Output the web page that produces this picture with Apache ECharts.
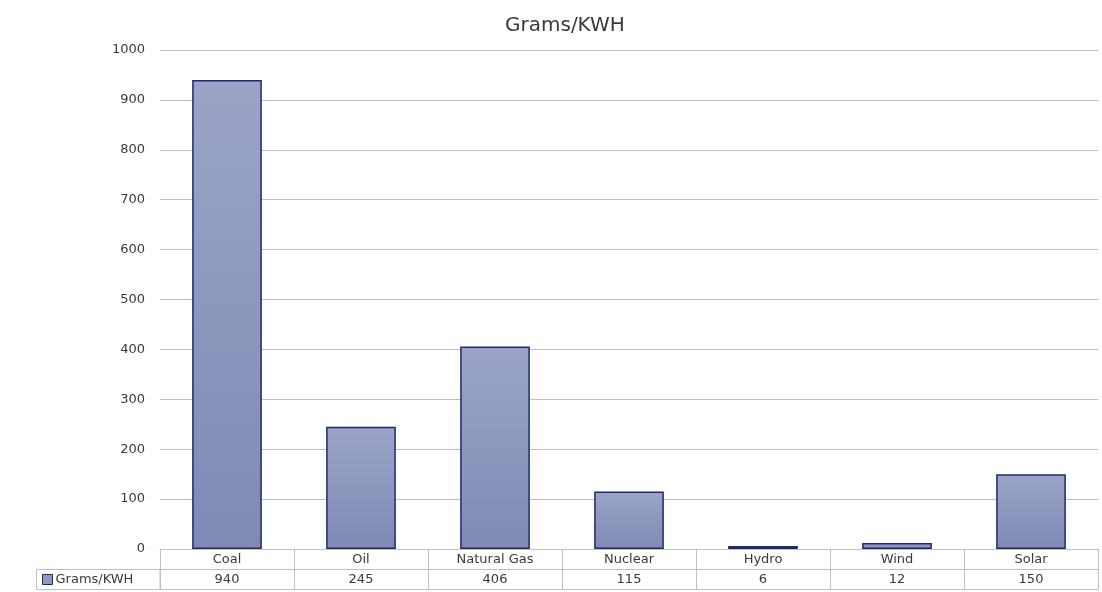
<!DOCTYPE html>
<html>
<head>
<meta charset="utf-8">
<script src="https://cdn.jsdelivr.net/npm/echarts@6/dist/echarts.min.js"></script>
<style>html,body{margin:0;padding:0;background:#fff}#c{width:1102px;height:592px}</style>
</head>
<body>
<div id="c"></div>
<script>
const titleText = 'Grams/KWH';
const seriesName = 'Grams/KWH';
const categories = ['Coal', 'Oil', 'Natural Gas', 'Nuclear', 'Hydro', 'Wind', 'Solar'];
const values = [940, 245, 406, 115, 6, 12, 150];
const yTicks = [0, 100, 200, 300, 400, 500, 600, 700, 800, 900, 1000];

const FONT = 'DejaVu Sans';
const TXT = '#3a3a3a';
const LINE = '#bfbfbf';
const barFill = new echarts.graphic.LinearGradient(0, 0, 0, 1, [
  {offset: 0, color: '#9ba4c7'},
  {offset: 1, color: '#7f8ab5'}
]);

const chart = echarts.init(document.getElementById('c'), null, {renderer: 'canvas'});
chart.setOption({
  animation: false,
  backgroundColor: '#ffffff',
  title: {
    text: titleText, left: 500, top: 11,
    textStyle: {fontFamily: FONT, fontSize: 20, fontWeight: 'normal', color: TXT}
  },
  legend: {
    data: [seriesName], left: 42, top: 573, icon: 'rect', itemWidth: 10, itemHeight: 10, itemGap: 5,
    itemStyle: {color: '#8f99c0', borderColor: '#1f2a6e', borderWidth: 1},
    textStyle: {fontFamily: FONT, fontSize: 13, color: TXT, padding: [0, 0, 0, -2]},
    padding: 0
  },
  graphic: [{
    type: 'rect',
    shape: {x: 36.5, y: 569.5, width: 123.5, height: 20},
    style: {fill: 'none', stroke: LINE, lineWidth: 1}
  }],
  grid: {left: 160, right: 4, top: 50, bottom: 43, containLabel: false},
  xAxis: [{
    type: 'category', data: categories, position: 'bottom', offset: 0,
    axisLine: {show: true, lineStyle: {color: LINE, width: 1}},
    axisTick: {show: true, length: 40, lineStyle: {color: LINE, width: 1}},
    axisLabel: {margin: 4, fontFamily: FONT, fontSize: 13, color: TXT, interval: 0},
    splitLine: {show: false}
  }, {
    type: 'category', data: values.map(String), position: 'bottom', offset: 20,
    axisLine: {show: true, lineStyle: {color: LINE, width: 1}},
    axisTick: {show: false},
    axisLabel: {margin: 4, fontFamily: FONT, fontSize: 13, color: TXT, interval: 0},
    splitLine: {show: false}
  }, {
    type: 'category', data: categories, position: 'bottom', offset: 40,
    axisLine: {show: true, lineStyle: {color: LINE, width: 1}},
    axisTick: {show: false},
    axisLabel: {show: false},
    splitLine: {show: false}
  }],
  yAxis: {
    type: 'value', min: yTicks[0], max: yTicks[yTicks.length - 1], interval: 100,
    axisLine: {show: false}, axisTick: {show: false},
    axisLabel: {margin: 15, fontFamily: FONT, fontSize: 13, color: TXT, formatter: v => String(v)},
    splitLine: {lineStyle: {color: LINE, width: 1}}
  },
  series: [{
    name: seriesName, type: 'bar', data: values, xAxisIndex: 0,
    barWidth: '52%',
    itemStyle: {color: barFill, borderColor: '#1f2a6e', borderWidth: 1.5}
  }]
});
</script>
</body>
</html>
